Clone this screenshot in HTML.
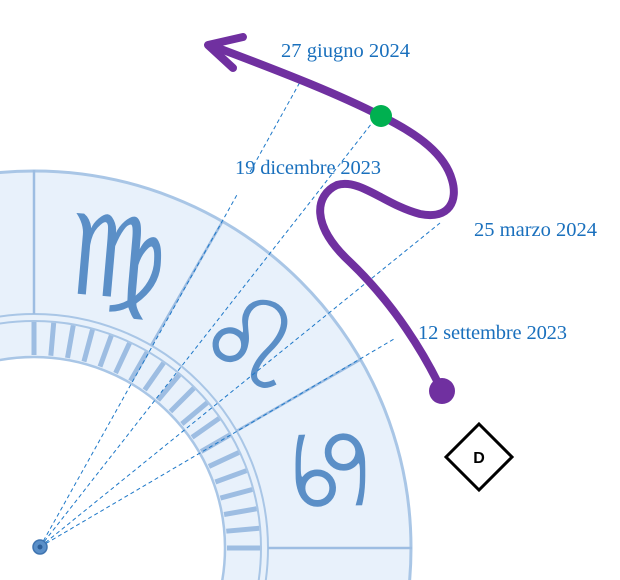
<!DOCTYPE html>
<html><head><meta charset="utf-8"><style>
html,body{margin:0;padding:0;background:#fff;width:620px;height:580px;overflow:hidden}
svg{display:block;position:absolute;left:0;top:0}
</style></head><body>
<svg width="620" height="580" viewBox="0 0 620 580" xmlns="http://www.w3.org/2000/svg">
<defs>
<clipPath id="c"><rect x="0" y="0" width="620" height="580"/></clipPath>
</defs>
<g clip-path="url(#c)">
<path d="M34,548 m-378,0 a378,378 0 1,0 756,0 a378,378 0 1,0 -756,0 M34,548 m-191,0 a191,191 0 1,1 382,0 a191,191 0 1,1 -382,0" fill="#e8f1fb" fill-rule="evenodd"/>
<g fill="none" stroke="#a9c6e6">
<circle cx="34" cy="548" r="377" stroke-width="3"/>
<circle cx="34" cy="548" r="234" stroke-width="2"/>
<circle cx="34" cy="548" r="227" stroke-width="2"/>
<circle cx="34" cy="548" r="191" stroke-width="2.5"/>
</g>
<g id="ticks" stroke="#9dbde2" stroke-width="5"></g>
<g stroke="#9dbde2" stroke-width="2.5">
<line x1="34" y1="314" x2="34" y2="170"/>
<line x1="151" y1="345.4" x2="223" y2="220.6"/>
<line x1="236.6" y1="431" x2="361.4" y2="359"/>
<line x1="268" y1="548" x2="412" y2="548"/>
</g>
<g font-family="DejaVu Sans, sans-serif" fill="#5b8fc7" text-anchor="middle">
<text transform="translate(-45,253) rotate(-10)" y="38" font-size="105">♎&#xFE0E;</text>
<text transform="translate(117,257) rotate(5)" y="40" font-size="112">♍&#xFE0E;</text>
<text transform="translate(250,343) rotate(15)" y="40" font-size="118">♌&#xFE0E;</text>
<text transform="translate(330,470) rotate(88)" y="38" font-size="108">♋&#xFE0E;</text>
</g>
<g stroke="#1e78c8" stroke-width="1" stroke-dasharray="4,3" fill="none">
<path d="M40,547 L238,193 M250,172 L300,82"/>
<path d="M40,547 L372,123"/>
<path d="M40,547 L440,223"/>
<path d="M40,547 L394,339"/>
</g>
<circle cx="40" cy="547" r="7" fill="#5a8fc8" stroke="#3f74b0" stroke-width="1.5"/>
<circle cx="40" cy="547" r="2.5" fill="#2c5e99"/>
<path d="M442,391 C425,355 395,305 350,262 C310,225 315,195 337,185 C360,178 385,205 420,214 C450,220 458,200 452,180 C445,155 420,135 381,116 C340,95 290,75 210,45" fill="none" stroke="#7030a0" stroke-width="8" stroke-linecap="round"/>
<path d="M243,37 L208,45 L233,68" fill="none" stroke="#7030a0" stroke-width="8" stroke-linecap="round" stroke-linejoin="round"/>
<circle cx="442" cy="391" r="13" fill="#7030a0"/>
<circle cx="381" cy="116" r="11" fill="#00b050"/>
<g font-family="Liberation Serif, serif" font-size="20.5" fill="#1a70bd">
<text x="281" y="57" textLength="129">27 giugno 2024</text>
<text x="235" y="174" textLength="146">19 dicembre 2023</text>
<text x="474" y="236" textLength="123">25 marzo 2024</text>
<text x="418" y="339" textLength="149">12 settembre 2023</text>
</g>
<polygon points="479,424 512,457 479,490 446,457" fill="#fff" stroke="#000" stroke-width="3"/>
<text x="479" y="463" font-family="Liberation Sans, sans-serif" font-weight="bold" font-size="16" text-anchor="middle">D</text>
</g>
</svg>
<script>
(function(){var g=document.getElementById('ticks');var s='';for(var a=0;a<=90;a+=5){var r=a*Math.PI/180,c=Math.cos(r),n=Math.sin(r);s+='<line x1="'+(34+193*c)+'" y1="'+(548-193*n)+'" x2="'+(34+226*c)+'" y2="'+(548-226*n)+'"/>';}g.innerHTML=s;})();
</script>
</body></html>
